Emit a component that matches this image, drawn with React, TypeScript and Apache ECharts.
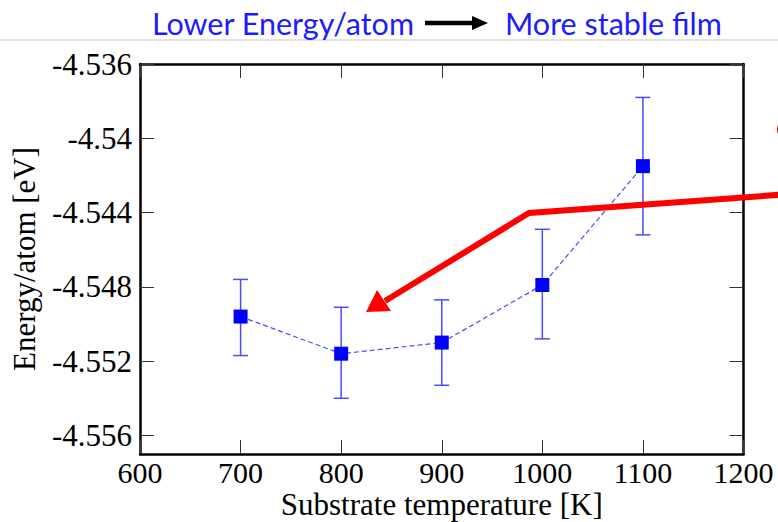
import React, { useEffect, useRef } from 'react';
import * as echarts from 'echarts';

const temperatures = [700, 800, 900, 1000, 1100];
const energy = [-4.5496, -4.5516, -4.5510, -4.5479, -4.5415];
const errLow = [-4.5517, -4.5540, -4.5533, -4.5508, -4.5452];
const errHigh = [-4.5476, -4.5491, -4.5487, -4.5449, -4.5378];
const yTicks = [-4.556, -4.552, -4.548, -4.544, -4.54, -4.536];
const xLabel = 'Substrate temperature [K]';
const yLabel = 'Energy/atom [eV]';
const titleLeft = 'Lower Energy/atom';
const titleRight = 'More stable film';

const SERIF = 'Liberation Serif';
const SANS = 'Lato';

export default function App() {
  const ref = useRef<HTMLDivElement>(null);
  useEffect(() => {
    if (!ref.current) return;
    const chart = echarts.init(ref.current, undefined, { renderer: 'svg' });
    const fmtY = (v: number) => String(+v.toFixed(3));
    const fmtX = (v: number) => String(Math.round(v));
    const axisLine = { show: true, lineStyle: { color: '#000', width: 2.5 } };
    const tick = { show: true, inside: true, length: 14, lineStyle: { color: '#333', width: 1 } };
    const yMin = -4.557;
    const yMax = -4.536;
    chart.setOption({
      animation: false,
      backgroundColor: '#fff',
      textStyle: { fontFamily: SERIF },
      grid: { left: 140, top: 64, width: 603.5, height: 390, containLabel: false, outerBoundsMode: 'none' },
      xAxis: [
        {
          type: 'value', min: 600, max: 1200, interval: 100, position: 'bottom',
          axisLine, axisTick: tick, splitLine: { show: false },
          axisLabel: {
            color: '#000', fontFamily: SERIF, fontSize: 30, lineHeight: 24,
            verticalAlign: 'middle', margin: 18, formatter: fmtX,
          },
          name: xLabel, nameLocation: 'middle', nameGap: 50, nameMoveOverlap: false,
          nameTextStyle: { color: '#000', fontFamily: SERIF, fontSize: 31, lineHeight: 24, verticalAlign: 'middle' },
        },
        {
          type: 'value', min: 600, max: 1200, interval: 100, position: 'top',
          axisLine, axisTick: tick, splitLine: { show: false }, axisLabel: { show: false },
        },
      ],
      yAxis: [
        {
          type: 'value', min: yMin, max: yMax, position: 'left',
          axisLine, axisTick: { ...tick, customValues: yTicks }, splitLine: { show: false },
          axisLabel: { color: '#000', fontFamily: SERIF, fontSize: 31, margin: 8, customValues: yTicks, formatter: fmtY },
          name: yLabel, nameLocation: 'middle', nameGap: 100, nameRotate: 90, nameMoveOverlap: false,
          nameTextStyle: { color: '#000', fontFamily: SERIF, fontSize: 31 },
        },
        {
          type: 'value', min: yMin, max: yMax, position: 'right',
          axisLine, axisTick: { ...tick, customValues: yTicks }, splitLine: { show: false },
          axisLabel: { show: false, customValues: yTicks },
        },
      ],
      series: [
        {
          type: 'custom',
          xAxisIndex: 0,
          yAxisIndex: 0,
          z: 2,
          encode: { x: 0, y: [1, 2] },
          data: temperatures.map((t, i) => [t, errLow[i], errHigh[i]]),
          renderItem: (params: any, api: any) => {
            const x = api.value(0);
            const pLo = api.coord([x, api.value(1)]);
            const pHi = api.coord([x, api.value(2)]);
            const hw = 7.5;
            const style = { stroke: '#4a4aff', lineWidth: 1.5 };
            return {
              type: 'group',
              children: [
                { type: 'line', shape: { x1: pLo[0], y1: pLo[1], x2: pHi[0], y2: pHi[1] }, style },
                { type: 'line', shape: { x1: pLo[0] - hw, y1: pLo[1], x2: pLo[0] + hw, y2: pLo[1] }, style },
                { type: 'line', shape: { x1: pHi[0] - hw, y1: pHi[1], x2: pHi[0] + hw, y2: pHi[1] }, style },
              ],
            };
          },
        },
        {
          type: 'line',
          xAxisIndex: 0,
          yAxisIndex: 0,
          z: 3,
          data: temperatures.map((t, i) => [t, energy[i]]),
          symbol: 'rect',
          symbolSize: 14,
          itemStyle: { color: '#0000ff' },
          lineStyle: { color: '#4a4aff', width: 1.2, type: [5, 3] },
        },
      ],
      graphic: [
        { type: 'line', z: 100, shape: { x1: 0, y1: 40, x2: 778, y2: 40 }, style: { stroke: '#d9d9d9', lineWidth: 1.5 } },
        {
          type: 'text', z: 100, x: 152, y: 23,
          style: { text: titleLeft, fill: '#1c1cff', font: `30.5px ${SANS}`, textVerticalAlign: 'middle' },
        },
        {
          type: 'text', z: 100, x: 505, y: 23,
          style: { text: titleRight, fill: '#1c1cff', font: `30.5px ${SANS}`, textVerticalAlign: 'middle' },
        },
        { type: 'line', z: 100, shape: { x1: 425, y1: 23, x2: 475, y2: 23 }, style: { stroke: '#000', lineWidth: 4.5 } },
        { type: 'polygon', z: 100, shape: { points: [[472, 16], [488, 23], [472, 30]] }, style: { fill: '#000' } },
        {
          type: 'polyline', z: 100,
          shape: { points: [[790, 194], [529, 213], [385, 301]] },
          style: { stroke: '#ff0000', lineWidth: 6, fill: 'none', lineJoin: 'miter' },
        },
        { type: 'polygon', z: 100, shape: { points: [[366, 312], [377, 290], [391, 311]] }, style: { fill: '#ff0000' } },
        {
          type: 'arc', z: 100,
          shape: { cx: 787, cy: 129.5, r: 8.5, startAngle: 2.6, endAngle: 3.7 },
          style: { stroke: '#ff0000', lineWidth: 3, fill: 'none' },
        },
      ],
    });
    return () => chart.dispose();
  }, []);
  return <div ref={ref} style={{ position: 'fixed', left: 0, top: 0, width: 778, height: 522 }} />;
}
